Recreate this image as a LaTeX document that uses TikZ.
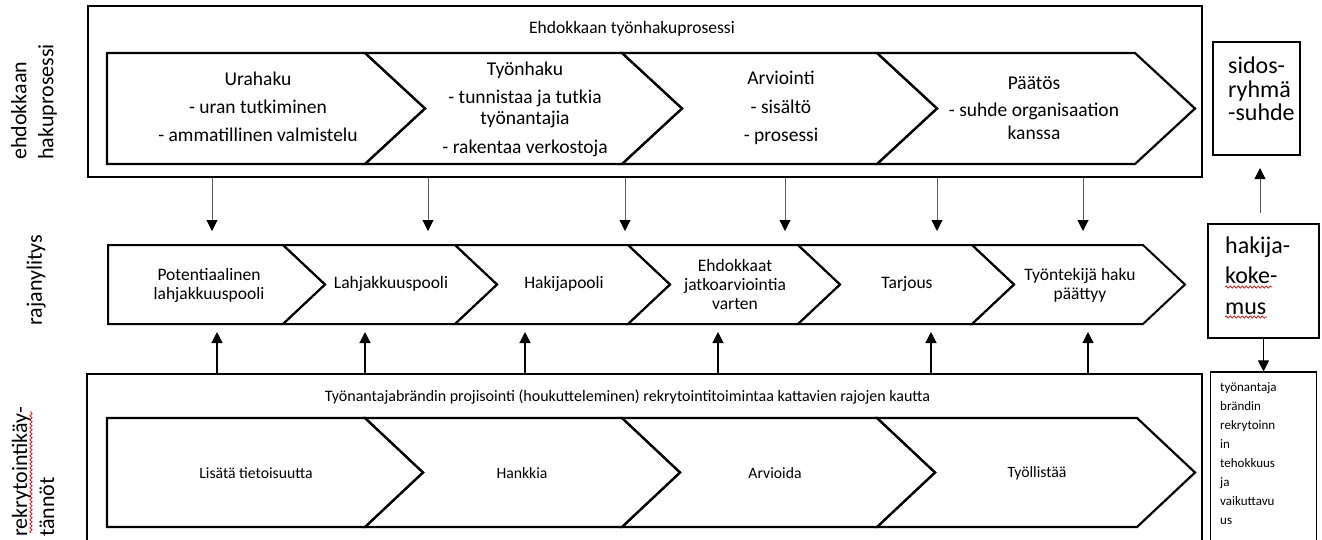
\documentclass[tikz,border=0pt]{standalone}
\usepackage{fontspec}
\setmainfont{Carlito}
\usetikzlibrary{arrows.meta,decorations.pathmorphing}

\begin{document}
\begin{tikzpicture}[x=1pt, y=-1pt, >={Triangle[width=11pt,length=11pt]},
  frame/.style={draw, line width=2pt, inner sep=0pt},
  chev/.style={draw, line width=2.2pt, line join=miter},
  sidebox/.style={draw, line width=1.1pt, inner sep=0pt},
  big/.style={font=\fontsize{19.5}{19}\selectfont, align=center},
  small/.style={font=\fontsize{17.5}{19}\selectfont, align=center},
  low/.style={font=\fontsize{15.7}{19}\selectfont},
  side/.style={font=\fontsize{22}{27}\selectfont, rotate=90, align=left, anchor=west, inner sep=0pt},
  down/.style={-{Triangle[width=11pt,length=11pt,color=black]}, line width=0.9pt, draw=black!65},
  up/.style={->, line width=1.2pt},
  squig/.style={draw=red!85!black, line width=0.7pt, decorate, decoration={snake, amplitude=1.1pt, segment length=4pt}}]
\useasboundingbox (0,0) rectangle (1322,539);
\clip (0,0) rectangle (1322,539);

% rivien otsikot
\node[side] (lab1) at (34,160) {ehdokkaan\\hakuprosessi};
\node[side, anchor=center] (lab2) at (36,280) {rajanylitys};
\node[side] (lab3) at (33,537) {rekrytointikäy-\\tännöt};
\draw[squig] (31,533) -- (31,411);

% ehdokkaan hakuprosessi
\node[frame, minimum width=1114pt, minimum height=171pt] (cand) at (645,91.5) {};
\node[font=\fontsize{17.5}{19}\selectfont] (candT) at (632,29) {Ehdokkaan työnhakuprosessi};
\draw[chev] (107,53) -- (365,53) -- (425,108.5) -- (365,164) -- (107,164) -- cycle;
\foreach \a/\b in {365/622, 622/877, 877/1135}
  \draw[chev] (\a,53) -- (\b,53) -- ++(60,55.5) -- (\b,164) -- (\a,164) -- ++(60,-55.5) -- cycle;
\node[big] (urah) at (258,106.5) {Urahaku\\[9pt]- uran tutkiminen\\[9pt]- ammatillinen valmistelu};
\node[big] (tyoh) at (525,109.5) {Työnhaku\\[9pt]- tunnistaa ja tutkia\\[2pt]työnantajia\\[10pt]- rakentaa verkostoja};
\node[big] (arvi) at (781,108) {Arviointi\\[9.5pt]- sisältö\\[9.5pt]- prosessi};
\node[big] (paat) at (1034,108) {Päätös\\[8pt]- suhde organisaation\\[4pt]kanssa};

% rajanylitys
\draw[chev, line width=2pt] (108,245) -- (283,245) -- (325,284.5) -- (283,324) -- (108,324) -- cycle;
\foreach \a/\b in {283/455, 455/628, 628/798, 798/972, 972/1143}
  \draw[chev, line width=2pt] (\a,245) -- (\b,245) -- ++(42,39.5) -- (\b,324) -- (\a,324) -- ++(42,-39.5) -- cycle;
\node[small] (pot) at (209,285) {Potentiaalinen\\lahjakkuuspooli};
\node[small] (lahj) at (391,284) {Lahjakkuuspooli};
\node[small] (haki) at (564,284) {Hakijapooli};
\node[small] (ehd) at (735,284) {Ehdokkaat\\jatkoarviointia\\varten};
\node[small] (tarj) at (907,284) {Tarjous};
\node[small] (paty) at (1080,285) {Työntekijä haku\\päättyy};

% rekrytointikäytännöt
\node[frame, minimum width=1115pt, minimum height=196pt] (recr) at (644.5,472) {};
\node[low, font=\fontsize{16}{19}\selectfont] (recrT) at (627.5,397) {Työnantajabrändin projisointi (houkutteleminen) rekrytointitoimintaa kattavien rajojen kautta};
\draw[chev] (107,418) -- (365,418) -- (423,472.5) -- (365,527) -- (107,527) -- cycle;
\foreach \a/\b in {365/622, 622/877, 877/1137}
  \draw[chev] (\a,418) -- (\b,418) -- ++(58,54.5) -- (\b,527) -- (\a,527) -- ++(58,-54.5) -- cycle;
\node[low] (lisa) at (256,473) {Lisätä tietoisuutta};
\node[low] (hank) at (522,473) {Hankkia};
\node[low] (arvo) at (775,473) {Arvioida};
\node[low] (tyol) at (1037,473) {Työllistää};

% sivulaatikot
\node[sidebox, minimum width=87pt, minimum height=113pt] (sid) at (1256.5,98.5) {};
\node[font=\fontsize{24}{23.5}\selectfont, align=left, anchor=west, inner sep=0pt] (sidT) at (1228,89) {sidos-\\ryhmä\\-suhde};
\node[sidebox, minimum width=111pt, minimum height=114pt] (hak) at (1263.5,281) {};
\node[font=\fontsize{24}{30.5}\selectfont, align=left, anchor=west, inner sep=0pt] (hakT) at (1225,275.5) {hakija-\\koke-\\mus};
\draw[squig] (1225,287) -- (1272,287);
\draw[squig] (1225,317) -- (1267,317);
\node[sidebox, minimum width=106pt, minimum height=196pt] (tyo) at (1263.5,470) {};
\node[font=\fontsize{13}{19}\selectfont, align=left, anchor=north west, inner sep=0pt] (tyoT) at (1220,382) {työnantaja\\brändin\\rekrytoinn\\in\\tehokkuus\\ja\\vaikuttavu\\us};

% nuolet
\coordinate (midtop) at (0,231);
\coordinate (midbot) at (0,332);
\foreach \x in {212,428,625,785,937,1083}
  \draw[down] (cand.south -| \x,0) -- (midtop -| \x,0);
\foreach \x in {217,365,525,718,931,1088}
  \draw[up] (recr.north -| \x,0) -- (midbot -| \x,0);
\coordinate (hs) at (1260,213);
\coordinate (ht) at (1260,168);
\draw[down] (hs) -- (ht);
\draw[up, line width=1pt] (hak.south) -- (tyo.north);
\end{tikzpicture}
\end{document}
